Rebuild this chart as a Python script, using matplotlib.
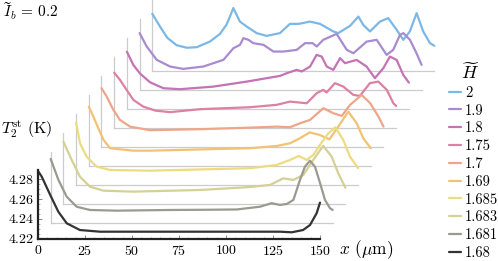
import matplotlib.pyplot as plt

plt.rcParams['font.family'] = 'serif'
plt.rcParams['font.serif'] = ['cmr10']
plt.rcParams['mathtext.fontset'] = 'cm'
plt.rcParams['axes.formatter.use_mathtext'] = True

# values of H (front to back) and their colours
h_labels = ['1.68', '1.681', '1.683', '1.685', '1.69', '1.7', '1.75', '1.8', '1.9', '2']
colors = ['#333333', '#9a9a90', '#d5d095', '#ecdc80', '#f2c274', '#eea58a',
          '#dd80a4', '#c474b4', '#a98bd0', '#7cb8e6']

# T_2^st (K) against x (um), one pair per H
x_168 = [0, 2, 6.5, 10.8, 15.3, 22.3, 33, 60, 100, 128.7, 135, 141, 144.7, 148.2, 150]
t_168 = [4.2885, 4.2827, 4.2642, 4.2472, 4.2354, 4.2286, 4.2269, 4.2269, 4.2269, 4.2269,
         4.2263, 4.2286, 4.2337, 4.2456, 4.2564]

x_1681 = [0, 4.1, 8.5, 13.8, 20.9, 35.1, 63.4, 81.2, 98.9, 111.3, 117.5, 122, 125.6, 129.1,
          132.6, 135.2, 137.9, 140.6, 143.3, 145.9, 148.6, 150]
t_1681 = [4.285, 4.2637, 4.2467, 4.2365, 4.2332, 4.2325, 4.2332, 4.2334, 4.2337, 4.2365,
          4.2401, 4.2383, 4.2393, 4.2434, 4.2637, 4.277, 4.2832, 4.277, 4.2603, 4.2434,
          4.2349, 4.2332]

x_1683 = [0, 4.4, 8.8, 14.1, 21.2, 37.2, 72.7, 99.3, 109.9, 117, 122.3, 127.6, 132.9, 138.2,
          142.7, 146.2, 150]
t_1683 = [4.2833, 4.2647, 4.2477, 4.2376, 4.2335, 4.2325, 4.2342, 4.2372, 4.2393, 4.246,
          4.2444, 4.2494, 4.2647, 4.279, 4.268, 4.2512, 4.2365]

x_1685 = [0, 2.1, 5.6, 10.9, 18, 39.3, 92.5, 106.7, 113.8, 118.5, 122.6, 126.2, 129.7, 134,
          137.9, 142.1, 145.7, 150]
t_1685 = [4.283, 4.2623, 4.2487, 4.2386, 4.2352, 4.2345, 4.237, 4.2403, 4.2454, 4.2494,
          4.2454, 4.2505, 4.2606, 4.272, 4.2785, 4.2657, 4.2487, 4.237]

x_169 = [0, 2, 4, 6, 8, 11.3, 23.5, 32.6, 85.8, 100, 107, 112.3, 117.5, 122.7, 128, 132.7,
         138, 142.5, 146, 150]
t_169 = [4.28, 4.272, 4.263, 4.254, 4.246, 4.238, 4.2355, 4.2355, 4.238, 4.2403, 4.243,
         4.2481, 4.254, 4.2515, 4.247, 4.2599, 4.2751, 4.2634, 4.2481, 4.238]

x_17 = [0, 2.8, 6.3, 9.8, 15.2, 25.8, 52.4, 79, 93.2, 100.3, 105.6, 110.9, 118, 123.3, 127.8,
        132.2, 138.4, 142.9, 147.3, 150]
t_17 = [4.2796, 4.271, 4.2576, 4.2474, 4.2406, 4.237, 4.238, 4.2396, 4.2406, 4.24, 4.244,
        4.2474, 4.2593, 4.2542, 4.2515, 4.2626, 4.2728, 4.2644, 4.2508, 4.2406]

x_175 = [0, 3.1, 6.6, 10.2, 15.5, 22, 29.7, 45.6, 72.2, 86.4, 93.5, 102.4, 107.7, 111.2, 113,
         117.4, 121.9, 127.2, 130.7, 136, 140.5, 145, 148.5, 150]
t_175 = [4.276, 4.2687, 4.2586, 4.2484, 4.2416, 4.2375, 4.236, 4.239, 4.241, 4.2434, 4.2467,
         4.245, 4.2552, 4.2586, 4.256, 4.2654, 4.2619, 4.2535, 4.2525, 4.2654, 4.267, 4.2586,
         4.245, 4.2423]

x_18 = [0, 3.4, 6.9, 12.3, 19.4, 28.2, 45.9, 63.7, 81.5, 85, 90.3, 93, 97.4, 100.9, 103.6,
        106.3, 109.8, 113.4, 116, 122.2, 127.5, 131.9, 136.4, 139.9, 143.5, 147, 150]
t_18 = [4.278, 4.2647, 4.256, 4.247, 4.241, 4.24, 4.2426, 4.2477, 4.2535, 4.2562, 4.2596,
        4.258, 4.2629, 4.2748, 4.2731, 4.263, 4.2596, 4.2715, 4.2664, 4.2697, 4.263, 4.2512,
        4.2613, 4.2731, 4.2697, 4.2545, 4.2467]

x_19 = [0, 3.8, 9.1, 16.2, 23.2, 33.9, 44.6, 49.9, 53.4, 55.2, 57.9, 60.5, 65.9, 71.2, 76.5,
        83.6, 88, 92, 94.2, 97.7, 104.8, 110.2, 113.7, 120.8, 126.1, 131.4, 134.9, 138.5,
        140.3, 143.8, 147.3, 150]
t_19 = [4.2776, 4.264, 4.2505, 4.2437, 4.2413, 4.2437, 4.2505, 4.2623, 4.2657, 4.2725,
        4.2708, 4.2674, 4.2657, 4.2589, 4.2589, 4.2606, 4.2674, 4.2674, 4.264, 4.2708,
        4.2768, 4.2606, 4.2572, 4.269, 4.2708, 4.2555, 4.2606, 4.2758, 4.2776, 4.2708,
        4.2572, 4.2454]

x_2 = [0, 4.1, 8, 13, 18.3, 23.6, 30.7, 36, 39.5, 41.3, 43.1, 46.6, 50.2, 55.5, 60.8, 67.9,
       73.2, 78, 83.9, 89.2, 96.3, 98.9, 105.2, 109.6, 112.2, 115.8, 121.1, 125.5, 130, 133.5,
       137, 140.6, 144.1, 147.7, 150]
t_2 = [4.2779, 4.265, 4.2535, 4.246, 4.2435, 4.244, 4.2498, 4.2575, 4.267, 4.2751, 4.2837,
       4.27, 4.265, 4.2583, 4.2555, 4.2583, 4.2677, 4.2677, 4.27, 4.2677, 4.26, 4.2583,
       4.2657, 4.2751, 4.2667, 4.26, 4.27, 4.2735, 4.2616, 4.2515, 4.26, 4.2786, 4.26, 4.2481,
       4.2455]

curves = [(x_168, t_168), (x_1681, t_1681), (x_1683, t_1683), (x_1685, t_1685),
          (x_169, t_169), (x_17, t_17), (x_175, t_175), (x_18, t_18), (x_19, t_19),
          (x_2, t_2)]

fig = plt.figure(figsize=(4.98, 2.61), dpi=100)
ax = fig.add_axes([38 / 498, 22.5 / 261, 282 / 498, 69 / 261])
ax.set_xlim(0, 150)
ax.set_ylim(4.22, 4.29)

# shift of each panel behind the front one (data units of the front axes)
dx = 6.755
panel_h = 0.0721
handles = []
for k, (xs, ts) in enumerate(curves):
    ox = k * dx
    oy = 0 if k == 0 else (19 * k - 3.5) / 985
    z = 2 * (len(curves) - k)
    if k > 0:
        ax.plot([ox, ox + 150], [4.22 + oy, 4.22 + oy], color='#cccccc', lw=0.9,
                zorder=z - 1, clip_on=False)
        ax.plot([ox, ox], [4.22 + oy, 4.22 + oy + panel_h], color='#cccccc', lw=0.9,
                zorder=z - 1, clip_on=False)
    line, = ax.plot([x + ox for x in xs], [t + oy for t in ts], color=colors[k], lw=1.6,
                    solid_joinstyle='round', solid_capstyle='round', zorder=z,
                    clip_on=False, label=h_labels[k])
    handles.append(line)

for side in ['top', 'right']:
    ax.spines[side].set_visible(False)
for side in ['left', 'bottom']:
    ax.spines[side].set_linewidth(1.6)
    ax.spines[side].set_color('#222222')
    ax.spines[side].set_zorder(30)

ax.set_xticks([0, 25, 50, 75, 100, 125, 150])
ax.set_yticks([4.22, 4.24, 4.26, 4.28])
ax.set_yticklabels(['4.22', '4.24', '4.26', '4.28'])
ax.set_xticks(range(0, 151, 5), minor=True)
ax.set_yticks([4.225, 4.23, 4.235, 4.245, 4.25, 4.255, 4.265, 4.27, 4.275, 4.285], minor=True)
ax.tick_params(which='major', direction='in', length=3, width=0.6, color='#777777',
               labelsize=10, pad=4)
ax.tick_params(which='minor', direction='in', length=1.5, width=0.5, color='#999999')
ax.tick_params(axis='y', pad=3)

fig.text(3 / 498, 1 - 11 / 261, r'$\widetilde{I}_b\,=\,0.2$', fontsize=11, va='center')
fig.text(1 / 498, 1 - 129 / 261, r'$T_2^{\rm st}$ (K)', fontsize=11.5, va='center')
fig.text(339 / 498, 1 - 250 / 261, r'$x$ ($\mu$m)', fontsize=12.5, va='center')
fig.text(470 / 498, 1 - 72 / 261, r'$\widetilde{H}$', fontsize=13, ha='center', va='center')

fig.legend(handles[::-1], h_labels[::-1], loc='upper left',
           bbox_to_anchor=(449 / 498, 1 - 86 / 261), frameon=False, fontsize=10.5,
           handlelength=0.8, handletextpad=0.3, labelspacing=0.28, borderpad=0,
           borderaxespad=0)

fig.savefig('out.png', dpi=100)
